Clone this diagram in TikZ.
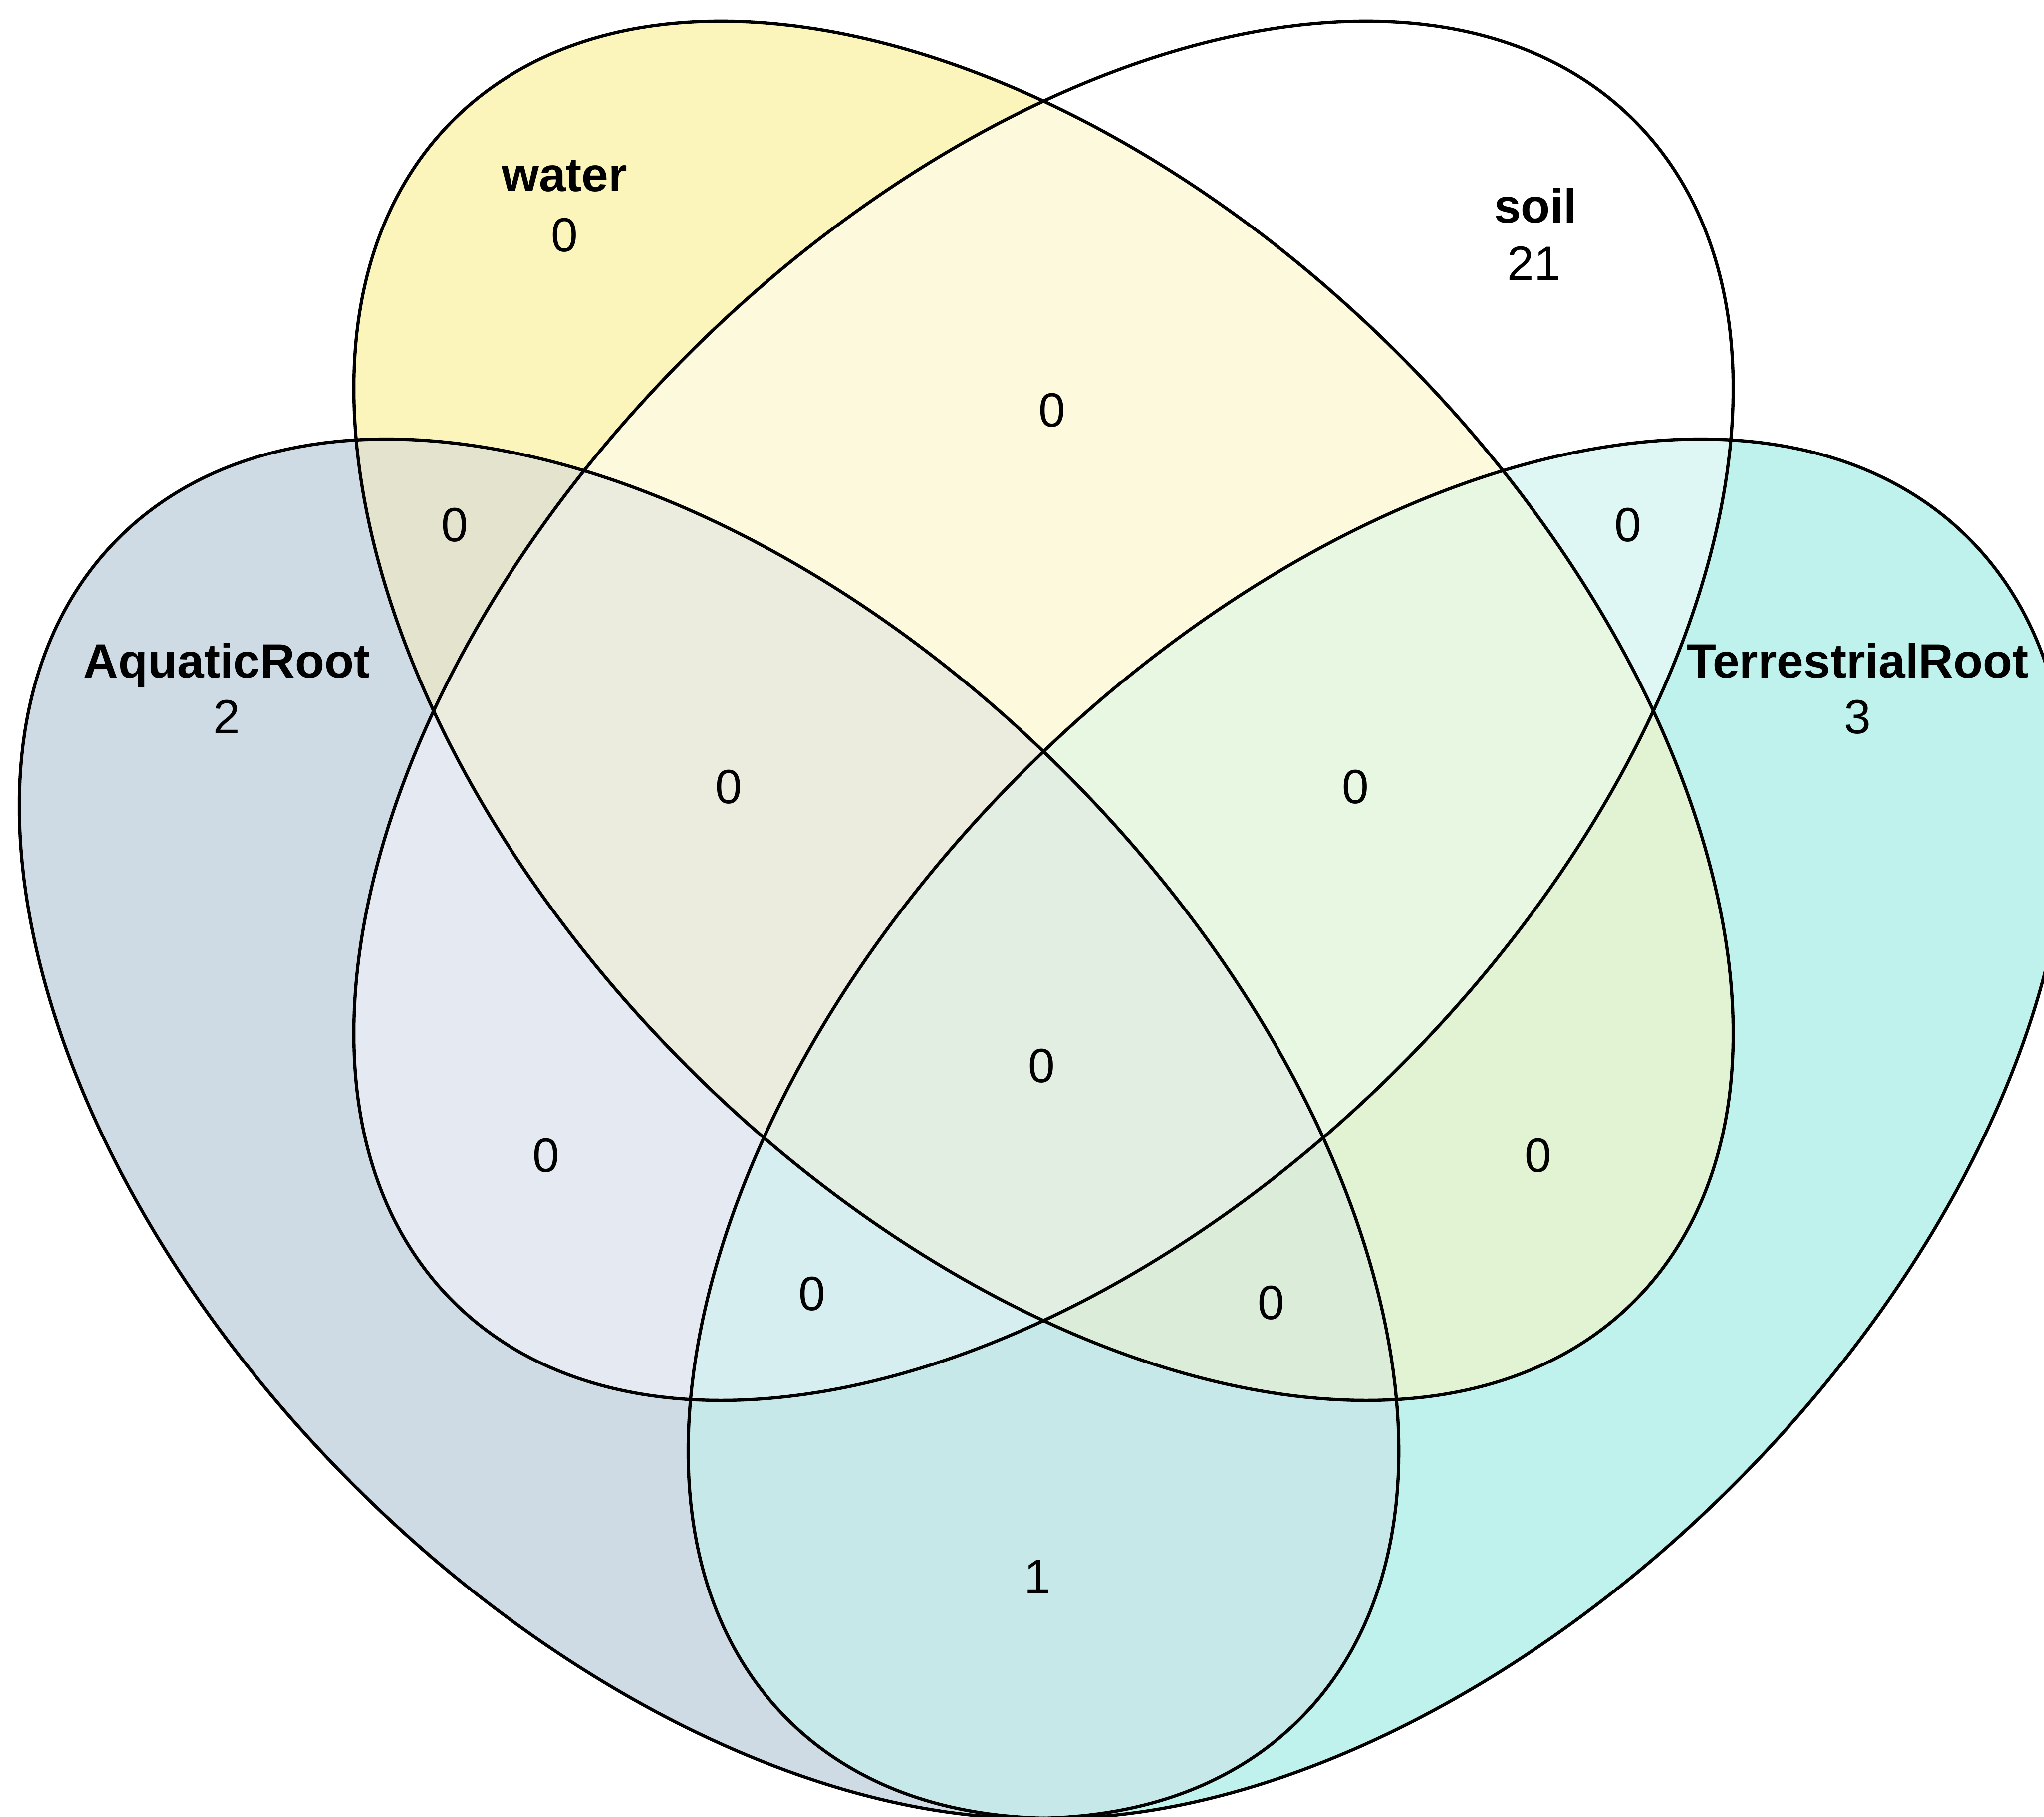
\documentclass[tikz,border=0pt]{standalone}
\usepackage{fontspec}
\setmainfont{Liberation Sans}
\usepackage{xcolor}
\usepackage{tikz}

% region colours %
\definecolor{cW}{HTML}{FBF5BC}
\definecolor{cS}{HTML}{FFFFFF}
\definecolor{cA}{HTML}{CEDBE5}
\definecolor{cT}{HTML}{BFF1ED}
\definecolor{cWS}{HTML}{FDF9DC}
\definecolor{cWA}{HTML}{E4E4CE}
\definecolor{cWT}{HTML}{E1F3D2}
\definecolor{cSA}{HTML}{E4E9F2}
\definecolor{cST}{HTML}{DEF7F4}
\definecolor{cAT}{HTML}{C6E8E8}
\definecolor{cWSA}{HTML}{ECECDE}
\definecolor{cWST}{HTML}{E8F7E1}
\definecolor{cWAT}{HTML}{DBEDD8}
\definecolor{cSAT}{HTML}{D7EEF0}
\definecolor{cWSAT}{HTML}{E1EEE1}

% the four sets %
\newcommand{\waterset}{(800.5,848.5) ellipse [x radius=640.7, y radius=386.2, rotate=-45]}
\newcommand{\soilset}{(800.5,848.5) ellipse [x radius=640.7, y radius=386.2, rotate=45]}
\newcommand{\aquaset}{(544,528) ellipse [x radius=640.7, y radius=386.2, rotate=-45]}
\newcommand{\terrset}{(1057,528) ellipse [x radius=640.7, y radius=386.2, rotate=45]}

\begin{document}
\begin{tikzpicture}[x=0.01cm, y=0.01cm,
  setline/.style={draw=black, line width=0.7pt},
  setname/.style={anchor=base, font=\fontsize{10.5}{12}\selectfont\bfseries},
  setcount/.style={anchor=base, font=\fontsize{10.5}{12}\selectfont}]

\useasboundingbox (0,0) rectangle (1568,1394);
\clip (0,0) rectangle (1568,1394);
\fill[white] (0,0) rectangle (1568,1394);

% one set %
\fill[cW] \waterset;
\fill[cS] \soilset;
\fill[cA] \aquaset;
\fill[cT] \terrset;

% two sets %
\begin{scope} \clip \waterset; \fill[cWS] \soilset; \end{scope}
\begin{scope} \clip \waterset; \fill[cWA] \aquaset; \end{scope}
\begin{scope} \clip \waterset; \fill[cWT] \terrset; \end{scope}
\begin{scope} \clip \soilset; \fill[cSA] \aquaset; \end{scope}
\begin{scope} \clip \soilset; \fill[cST] \terrset; \end{scope}
\begin{scope} \clip \aquaset; \fill[cAT] \terrset; \end{scope}

% three sets %
\begin{scope} \clip \waterset; \clip \soilset; \fill[cWSA] \aquaset; \end{scope}
\begin{scope} \clip \waterset; \clip \soilset; \fill[cWST] \terrset; \end{scope}
\begin{scope} \clip \waterset; \clip \aquaset; \fill[cWAT] \terrset; \end{scope}
\begin{scope} \clip \soilset; \clip \aquaset; \fill[cSAT] \terrset; \end{scope}

% four sets %
\begin{scope} \clip \waterset; \clip \soilset; \clip \aquaset; \fill[cWSAT] \terrset; \end{scope}

% outlines %
\draw[setline] \waterset;
\draw[setline] \soilset;
\draw[setline] \aquaset;
\draw[setline] \terrset;

% set names %
\node[setname] (waterlab) at (433,1247) {water};
\node[setname] (soillab) at (1178,1223) {soil};
\node[setname] (aqualab) at (174,874) {AquaticRoot};
\node[setname] (terrlab) at (1425,874) {TerrestrialRoot};

% counts %
\node[setcount] (w) at (433,1201) {0};
\node[setcount] (s) at (1177,1179) {21};
\node[setcount] (a) at (174,831) {2};
\node[setcount] (t) at (1425,831) {3};
\node[setcount] (ws) at (807,1066.5) {0};
\node[setcount] (wa) at (349,978.5) {0};
\node[setcount] (st) at (1249,978.5) {0};
\node[setcount] (wsa) at (559,777.5) {0};
\node[setcount] (wst) at (1040,777.5) {0};
\node[setcount] (wsat) at (799,563.5) {0};
\node[setcount] (sa) at (419,494.5) {0};
\node[setcount] (wt) at (1180,494.5) {0};
\node[setcount] (sat) at (623,388.5) {0};
\node[setcount] (wat) at (975,381.5) {0};
\node[setcount] (at) at (796,171.5) {1};

\end{tikzpicture}
\end{document}
